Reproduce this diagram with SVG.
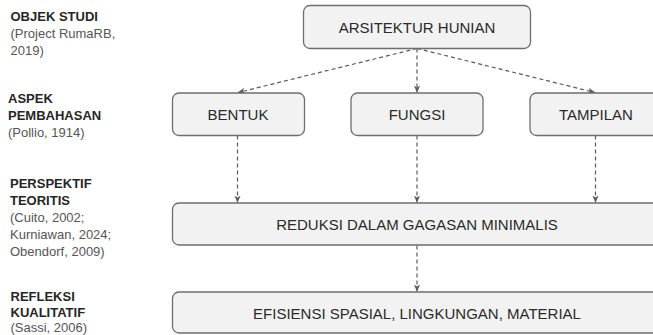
<svg xmlns="http://www.w3.org/2000/svg" width="653" height="335" viewBox="0 0 653 335">
<style>
.box{fill:#f2f2f2;stroke:#6e6e6e;stroke-width:1.3}
.bt{font-family:"Liberation Sans",Arial,sans-serif;font-size:15px;fill:#2a2a2a;text-anchor:middle}
.lb{font-family:"Liberation Sans",Arial,sans-serif;font-size:13px;font-weight:bold;fill:#262626}
.lr{font-family:"Liberation Sans",Arial,sans-serif;font-size:13px;fill:#555}
.con{fill:none;stroke:#5a5a5a;stroke-width:1.2;stroke-dasharray:4 3;marker-end:url(#ah)}
</style>
<defs>
<marker id="ah" markerUnits="userSpaceOnUse" markerWidth="8" markerHeight="8" viewBox="0 0 8 8" refX="7" refY="4" orient="auto">
<path d="M0,0.8 L7,4 L0,7.2 L2,4 z" fill="#5a5a5a"/>
</marker>
</defs>
<rect width="653" height="335" fill="#ffffff"/>
<g id="labels">
<text class="lb" x="10.5" y="21">OBJEK STUDI</text>
<text class="lr" x="10.5" y="38">(Project RumaRB,</text>
<text class="lr" x="10.5" y="55">2019)</text>
<text class="lb" x="8" y="103">ASPEK</text>
<text class="lb" x="8" y="120">PEMBAHASAN</text>
<text class="lr" x="8" y="137">(Pollio, 1914)</text>
<text class="lb" x="10" y="188">PERSPEKTIF</text>
<text class="lb" x="10" y="205">TEORITIS</text>
<text class="lr" x="10" y="222">(Cuito, 2002;</text>
<text class="lr" x="10" y="239">Kurniawan, 2024;</text>
<text class="lr" x="10" y="256">Obendorf, 2009)</text>
<text class="lb" x="10.5" y="301">REFLEKSI</text>
<text class="lb" x="10.5" y="317">KUALITATIF</text>
<text class="lr" x="10.5" y="332">(Sassi, 2006)</text>
</g>
<g id="connectors">
<path class="con" d="M417,48.5 L238,92.5"/>
<path class="con" d="M417,48.5 L417,92.5"/>
<path class="con" d="M417,48.5 L595,92.5"/>
<path class="con" d="M237.5,135.5 L237.5,202.5"/>
<path class="con" d="M417,135.5 L417,202.5"/>
<path class="con" d="M595.5,135.5 L595.5,202.5"/>
<path class="con" d="M417,245.5 L417,291.5"/>
</g>
<g id="n-arsitektur">
<rect class="box" x="303.5" y="5.5" width="227" height="43" rx="6.5"/>
<text class="bt" x="417" y="32.5">ARSITEKTUR HUNIAN</text>
</g>
<g id="n-bentuk">
<rect class="box" x="172.5" y="93" width="132" height="42.5" rx="6.5"/>
<text class="bt" x="238" y="119.5">BENTUK</text>
</g>
<g id="n-fungsi">
<rect class="box" x="351" y="93" width="132" height="42.5" rx="6.5"/>
<text class="bt" x="417" y="119.5">FUNGSI</text>
</g>
<g id="n-tampilan">
<rect class="box" x="530" y="93" width="132" height="42.5" rx="6.5"/>
<text class="bt" x="596" y="119.5">TAMPILAN</text>
</g>
<g id="n-reduksi">
<rect class="box" x="172.5" y="203" width="490" height="42" rx="6.5"/>
<text class="bt" x="417" y="230">REDUKSI DALAM GAGASAN MINIMALIS</text>
</g>
<g id="n-efisiensi">
<rect class="box" x="172.5" y="292" width="490" height="41" rx="6.5"/>
<text class="bt" x="417" y="318.5">EFISIENSI SPASIAL, LINGKUNGAN, MATERIAL</text>
</g>
</svg>
